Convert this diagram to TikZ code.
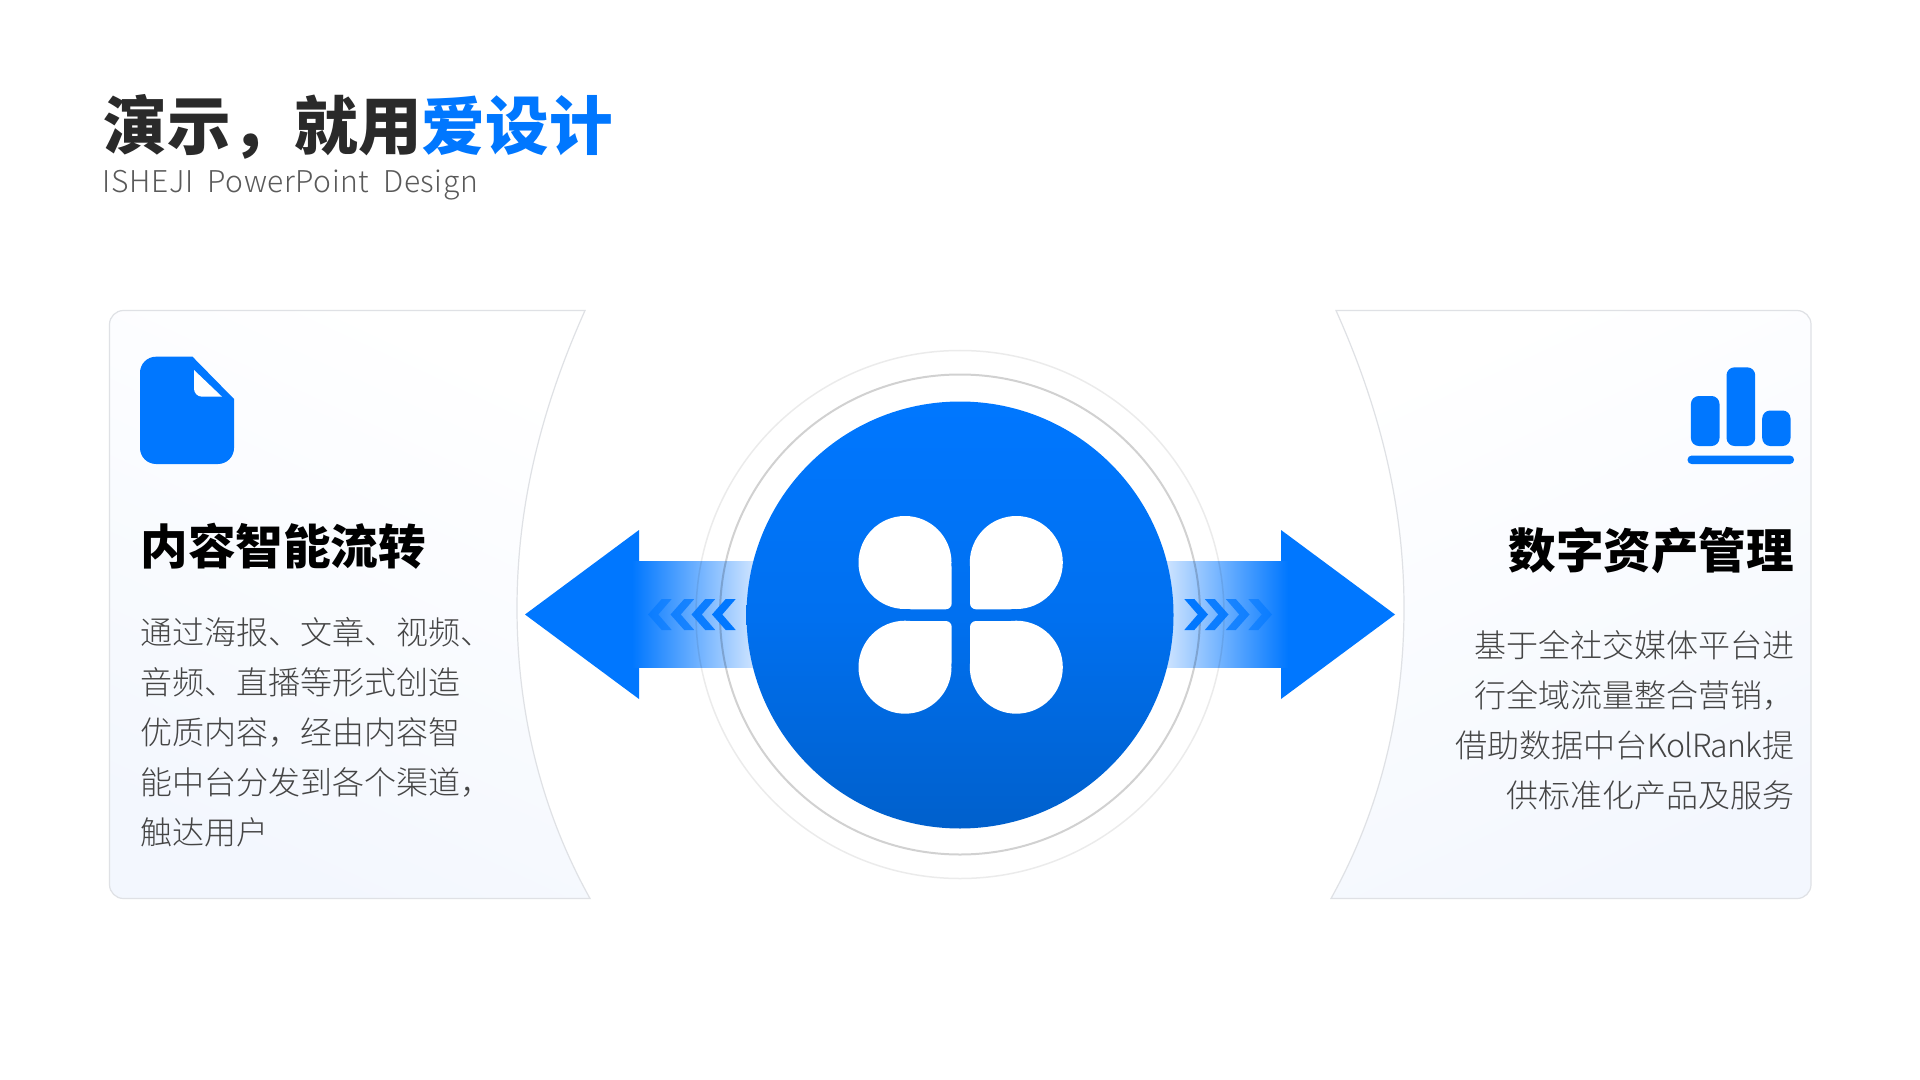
\documentclass[tikz,border=0pt]{standalone}
\usepackage{fontspec}
\newfontfamily\cjk{Noto Sans CJK SC}
\newfontfamily\cjklight{Noto Sans CJK SC Light}
\definecolor{brandblue}{HTML}{0077FF}
\definecolor{branddark}{HTML}{0060CC}
\definecolor{panelblue}{HTML}{F3F7FE}
\definecolor{panelline}{HTML}{DFE1E5}
\definecolor{fadeblue}{HTML}{D8E9FF}
\definecolor{inkdark}{HTML}{2A2A2A}
\definecolor{inkbody}{HTML}{454545}
\definecolor{inksub}{HTML}{5A5A5A}
\tikzset{
  panel/.style={draw=panelline,line width=0.6pt,top color=white,bottom color=panelblue},
  headtext/.style={inner sep=0pt,font=\cjk\bfseries\fontsize{23.8}{28}\selectfont,text=black},
  bodytext/.style={inner sep=0pt,font=\cjklight\fontsize{16}{25}\selectfont,text=inkbody},
  chev/.style={fill=brandblue,draw=none},
  petal/.style={fill=white,draw=none}
}
\newcommand{\chevron}[3]{% x, dir, opacity
  \fill[chev,opacity=#3] (#1,614.5) -- ++({#2*13.7},-15.5) -- ++({#2*10},0) -- ({#1+#2*10.3},614.5) -- ({#1+#2*23.7},630) -- ++({-#2*10},0) -- cycle;}
\newcommand{\petalshape}[4]{% cx, cy, corner x, corner y
  \fill[petal] (#1,#2) ellipse [x radius=46.5,y radius=46.5];
  \fill[petal,rounded corners=3pt] (#1,#2) rectangle (#3,#4);}
\begin{document}
\begin{tikzpicture}[x=0.5pt,y=-0.5pt]
\useasboundingbox (0,0) rectangle (1920,1080);
\fill[white] (0,0) rectangle (1920,1080);
% panels
\path[panel,shading angle=-25] (585,310.5) [rounded corners=7pt] -- (109.5,310.5) -- (109.5,898.5) [sharp corners] -- (590,898.5) .. controls (538,805) and (517,705) .. (517,608) .. controls (517,508) and (540,411) .. (585,310.5) -- cycle;
\path[panel,shading angle=25] (1336,310.5) [rounded corners=7pt] -- (1811,310.5) -- (1811,898.5) [sharp corners] -- (1331,898.5) .. controls (1383,805) and (1404,705) .. (1404,608) .. controls (1404,508) and (1381,411) .. (1336,310.5) -- cycle;
% arrows
\fill[brandblue] (525,614.5) -- (639,530) -- (639,699) -- cycle;
\shade[left color=brandblue,right color=fadeblue] (632,561) rectangle (760,667);
\fill[brandblue] (1395,614.5) -- (1281,530) -- (1281,699) -- cycle;
\shade[right color=brandblue,left color=fadeblue] (1160,561) rectangle (1288,667);
% rings
\draw[black,line width=1pt,opacity=.18] (960,614.5) ellipse [x radius=240,y radius=240];
\draw[black,line width=0.75pt,opacity=.08] (960,614.5) ellipse [x radius=264,y radius=264];
% chevrons
\chevron{648}{1}{.6}\chevron{670.5}{1}{.75}\chevron{691.5}{1}{.9}\chevron{712}{1}{1}
\chevron{1272}{-1}{.6}\chevron{1249.5}{-1}{.75}\chevron{1228.5}{-1}{.9}\chevron{1208}{-1}{1}
% main circle
\shade[top color=brandblue,bottom color=branddark,middle color=brandblue!70!branddark] (960,615) ellipse [x radius=213.5,y radius=213.5];
% clover
\petalshape{905}{562.5}{951.7}{609.3}
\petalshape{1016.3}{562.5}{970}{609.3}
\petalshape{905}{667.2}{951.7}{621}
\petalshape{1016.3}{667.2}{970}{621}
% document icon
\fill[brandblue] (192.5,356.7) -- (234,399) [rounded corners=8pt] -- (234,464) -- (140,464) -- (140,356.7) [sharp corners] -- cycle;
\fill[white] (194,370) -- (222,396.7) [rounded corners=4pt] -- (194,396.7) [sharp corners] -- cycle;
% chart icon
\fill[brandblue,rounded corners=4pt] (1690.9,396) rectangle (1719.5,446);
\fill[brandblue,rounded corners=4pt] (1726.5,367.3) rectangle (1755.2,446);
\fill[brandblue,rounded corners=4pt] (1762.2,410.5) rectangle (1790.5,446);
\fill[brandblue,rounded corners=2pt] (1687.5,455.6) rectangle (1794,464);
% text
\node[anchor=base west,inner sep=0pt,font=\cjk\bfseries\fontsize{31.8}{36}\selectfont,text=inkdark] (title) at (103.5,149.5) {演示，就用\textcolor{brandblue}{爱设计}};
\node[anchor=base west,inner sep=0pt,font=\cjklight\fontsize{15}{18}\selectfont,text=inksub] (subtitle) at (102.5,192.5) {\addfontfeature{LetterSpace=1.8}ISHEJI\ \ PowerPoint\ \ Design};
\node[headtext,anchor=base west] (lefthead) at (140,564) {内容智能流转};
\node[headtext,anchor=base east] (righthead) at (1794.5,568) {数字资产管理};
\node[bodytext,anchor=north west,align=left] (leftbody) at (140,617) {通过海报、文章、视频、\\音频、直播等形式创造\\优质内容，经由内容智\\能中台分发到各个渠道，\\触达用户};
\node[bodytext,anchor=north east,align=right] (rightbody) at (1794.5,630) {基于全社交媒体平台进\\行全域流量整合营销，\\借助数据中台{\addfontfeature{LetterSpace=-3}KolRank}提\\供标准化产品及服务};
\end{tikzpicture}
\end{document}
